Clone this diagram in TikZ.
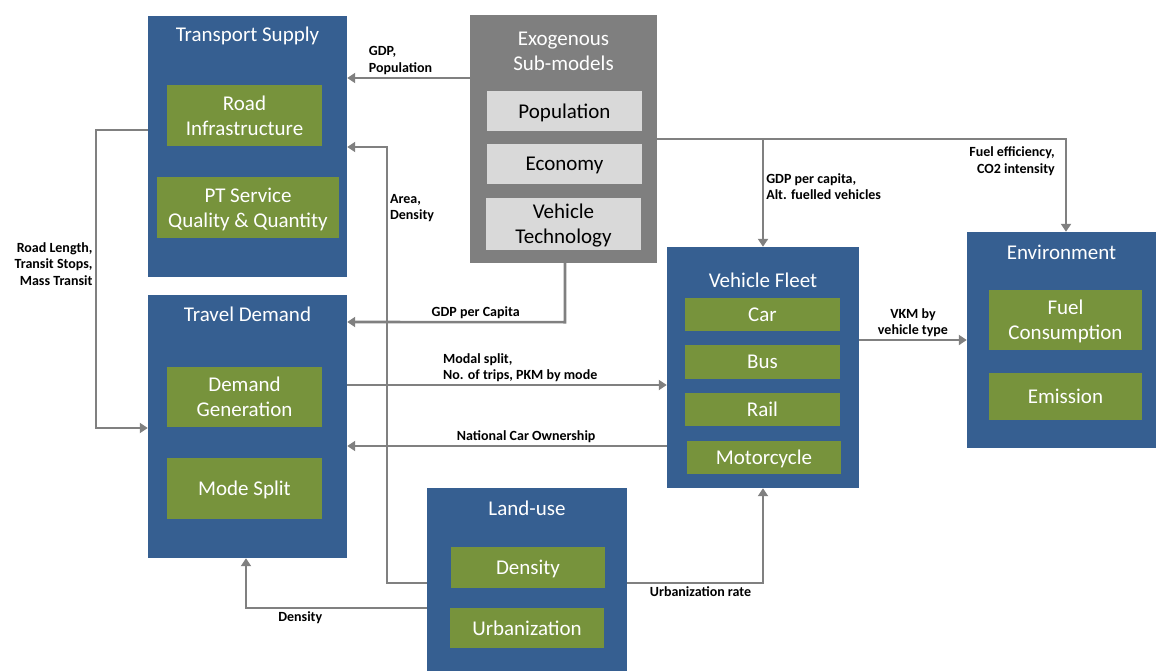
\documentclass[tikz,border=0pt]{standalone}
\usepackage{fontspec}
\setmainfont{Carlito}
\usetikzlibrary{arrows.meta,positioning}

\definecolor{boxblue}{RGB}{54,95,145}
\definecolor{subgreen}{RGB}{119,147,60}
\definecolor{exogray}{RGB}{127,127,127}
\definecolor{subgray}{RGB}{217,217,217}
\definecolor{linegray}{RGB}{128,128,128}

\begin{document}
\begin{tikzpicture}[x=1pt,y=-1pt,
  outer/.style={fill=boxblue,inner sep=0pt},
  title/.style={text=white,font=\fontsize{21}{25}\selectfont,align=center,inner sep=2pt},
  sub/.style={fill=subgreen,text=white,font=\fontsize{21}{25}\selectfont,align=center,inner sep=0pt,text depth=0pt},
  subexo/.style={fill=subgray,text=black,font=\fontsize{21}{25}\selectfont,align=center,inner sep=0pt,text depth=0pt},
  lbl/.style={font=\bfseries\fontsize{14}{16.5}\selectfont,text=black,inner sep=2pt},
  flow/.style={draw=linegray,line width=2.6pt,-{Triangle[width=10pt,length=8pt]}}]

\useasboundingbox (0,0) rectangle (1156,671);

% Transport Supply
\node[outer,minimum width=199pt,minimum height=261pt](ts) at (247.5,146.5){};
\node[title,below=9pt of ts.north](tstitle){Transport Supply};
\node[sub,minimum width=155pt,minimum height=61pt](road) at (244.5,115.5){Road\\Infrastructure};
\node[sub,minimum width=182pt,minimum height=61pt](pt) at (248,207.5){PT Service\\Quality \& Quantity};

% Travel Demand
\node[outer,minimum width=199pt,minimum height=263pt](td) at (247.5,426.5){};
\node[title,below=10pt of td.north](tdtitle){Travel Demand};
\node[sub,minimum width=155pt,minimum height=60pt](dgen) at (244.5,397){Demand\\Generation};
\node[sub,minimum width=155pt,minimum height=61pt](msplit) at (244.5,488.5){Mode Split};

% Exogenous Sub-models
\node[fill=exogray,inner sep=0pt,minimum width=187pt,minimum height=248pt](exo) at (563.5,139){};
\node[title,below=15pt of exo.north](exotitle){Exogenous\\Sub-models};
\node[subexo,minimum width=155pt,minimum height=40pt](pop) at (564.5,111){Population};
\node[subexo,minimum width=155pt,minimum height=40pt](eco) at (564.5,164){Economy};
\node[subexo,minimum width=155pt,minimum height=52pt](vtech) at (563.5,224){Vehicle\\Technology};

% Vehicle Fleet
\node[outer,minimum width=192pt,minimum height=241pt](vf) at (763,367.5){};
\node[title,below=24pt of vf.north](vftitle){Vehicle Fleet};
\node[sub,minimum width=155pt,minimum height=33pt](car) at (762.5,314.5){Car};
\node[sub,minimum width=155pt,minimum height=34pt](bus) at (762.5,362){Bus};
\node[sub,minimum width=155pt,minimum height=33pt](rail) at (762.5,409.5){Rail};
\node[sub,minimum width=154pt,minimum height=33pt](moto) at (764,457.5){Motorcycle};

% Environment
\node[outer,minimum width=189pt,minimum height=216pt](env) at (1061.5,340){};
\node[title,below=11pt of env.north](envtitle){Environment};
\node[sub,minimum width=153pt,minimum height=60pt](fuel) at (1065.5,320){Fuel\\Consumption};
\node[sub,minimum width=153pt,minimum height=47pt](emis) at (1065.5,396.5){Emission};

% Land-use
\node[outer,minimum width=200pt,minimum height=183pt](lu) at (527,579.5){};
\node[title,below=11pt of lu.north](lutitle){Land-use};
\node[sub,minimum width=154pt,minimum height=41pt](dens) at (528,567.5){Density};
\node[sub,minimum width=154pt,minimum height=40pt](urb) at (527,628){Urbanization};

% connectors
\draw[flow]([yshift=61pt]exo.west) -- node[lbl,anchor=south west,align=left,pos=0.85]{GDP,\\Population} ([yshift=68.5pt]ts.east);
\draw[flow]([yshift=-3.5pt]lu.west) -- ++(-40,0) -- node[lbl,anchor=west,align=left,pos=0.86]{Area,\\Density} ++(0,-436) -- ([yshift=-0.5pt]ts.east);
\draw[flow]([yshift=16.5pt]ts.west) -- ++(-52,0) -- node[lbl,anchor=east,align=right,pos=0.45]{Road Length,\\Transit Stops,\\Mass Transit} ++(0,298) -- ([yshift=-1.5pt]td.west);
\draw[flow]([xshift=1.5pt]exo.south) -- ++(0,59) -- node[lbl,above,pos=0.41]{GDP per Capita} ([yshift=104.5pt]td.east);
\draw[flow]([yshift=41.5pt]td.east) -- node[lbl,anchor=south west,align=left,pos=0.29]{Modal split,\\No. of trips, PKM by mode} ([yshift=-17.5pt]vf.west);
\draw[flow]([yshift=-78.5pt]vf.west) -- node[lbl,above,pos=0.44]{National Car Ownership} ([yshift=-19.5pt]td.east);
\draw[flow](exo.east) -| node[lbl,anchor=east,align=right,pos=0.62,xshift=-8pt]{Fuel efficiency,\\CO2 intensity} ([xshift=4.5pt]env.north);
\draw[flow](exo.east -| vf.north) -- node[lbl,anchor=west,align=left,pos=0.44]{GDP per capita,\\Alt. fuelled vehicles} (vf.north);
\draw[flow]([yshift=27.5pt]vf.east) -- node[lbl,above,align=center]{VKM by\\vehicle type} (env.west);
\draw[flow]([yshift=-3.5pt]lu.east) -| node[lbl,below,pos=0.27]{Urbanization rate} (vf.south);
\draw[flow]([yshift=-28.5pt]lu.west) -| node[lbl,below,pos=0.35]{Density} ([xshift=-1.5pt]td.south);

\end{tikzpicture}
\end{document}
